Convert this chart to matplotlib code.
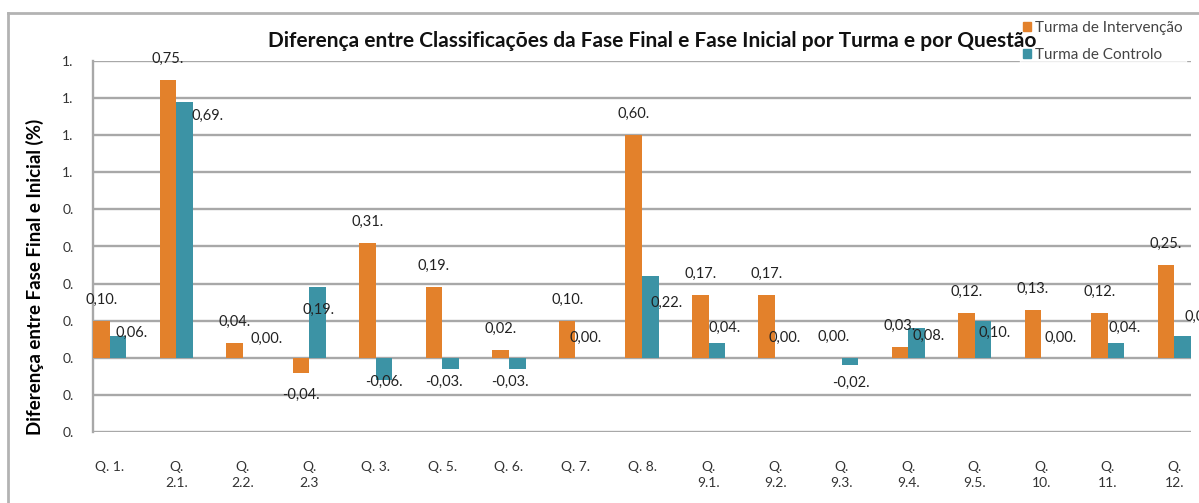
import matplotlib
matplotlib.use("Agg")
import matplotlib.pyplot as plt
import numpy as np
from matplotlib.ticker import FuncFormatter, FixedLocator
from matplotlib.patches import Patch
from matplotlib.lines import Line2D

categories = ["Q. 1.", "Q.\n2.1.", "Q.\n2.2.", "Q.\n2.3", "Q. 3.", "Q. 5.", "Q. 6.",
              "Q. 7.", "Q. 8.", "Q.\n9.1.", "Q.\n9.2.", "Q.\n9.3.", "Q.\n9.4.",
              "Q.\n9.5.", "Q.\n10.", "Q.\n11.", "Q.\n12."]
intervencao = [0.10, 0.75, 0.04, -0.04, 0.31, 0.19, 0.02, 0.10, 0.60, 0.17, 0.17,
               0.00, 0.03, 0.12, 0.13, 0.12, 0.25]
controlo = [0.06, 0.69, 0.00, 0.19, -0.06, -0.03, -0.03, 0.00, 0.22, 0.04, 0.00,
            -0.02, 0.08, 0.10, 0.00, 0.04, 0.06]
series_names = ["Turma de Intervenção", "Turma de Controlo"]
title = "Diferença entre Classificações da Fase Final e Fase Inicial por Turma e por Questão"
ylabel = "Diferença entre Fase Final e Inicial (%)"
yticks = [-0.2, -0.1, 0.0, 0.1, 0.2, 0.3, 0.4, 0.5, 0.6, 0.7, 0.8]

# label offsets for the control series (pixels: dx right, dy down)
ctrl_offsets = [(14, -3), (23, 14), (16, -19), (1, 23), (0, 2), (-7, 13), (-7, 13),
                (2, -20), (16, 27), (8, -15), (1, -20), (1, 18), (12, 8), (12, 12),
                (11, -20), (8, -15), (18, -19)]

ORANGE = "#E3812B"
TEAL = "#3C93A5"
GRID = "#A8A8A8"
FONT = "Lato"

W, H = 1199, 503
fig = plt.figure(figsize=(W / 100, H / 100), dpi=100)
ax = fig.add_axes([93 / W, 1 - 432 / H, (1191 - 93) / W, (432 - 61) / H])

x = np.arange(len(categories))
bw = 0.25
ax.bar(x - bw / 2, intervencao, bw, color=ORANGE, zorder=3)
ax.bar(x + bw / 2, controlo, bw, color=TEAL, zorder=3)

ax.set_xlim(-0.25, len(categories) - 0.75)
ax.set_ylim(-0.2, 0.8)
ax.yaxis.set_major_locator(FixedLocator(yticks))
ax.yaxis.set_major_formatter(FuncFormatter(lambda t, p: f"{int(np.floor(t + 0.5 + 1e-9))}."))
ax.grid(axis="y", color=GRID, linewidth=1.7, zorder=0)
ax.set_xticks(x)
ax.set_xticklabels(categories, fontfamily=FONT, fontsize=10, color="#333333",
                   linespacing=1.35, va="top")
ax.tick_params(axis="both", length=0)
ax.tick_params(axis="x", pad=21)
ax.tick_params(axis="y", pad=14)
for lab in ax.get_yticklabels():
    lab.set_fontfamily(FONT)
    lab.set_fontsize(10)
    lab.set_color("#333333")
for s in ["top", "right", "bottom"]:
    ax.spines[s].set_visible(False)
ax.spines["left"].set_color(GRID)
ax.spines["left"].set_linewidth(1.7)


def fmt(v):
    return f"{v:.2f}".replace(".", ",") + "."


LBL = 10.5
for i, v in enumerate(intervencao):
    dy = 21 if v >= 0 else -22
    ax.annotate(fmt(v), xy=(x[i] - bw / 2, v), xytext=(0, dy), textcoords="offset pixels",
                ha="center", va="center", fontfamily=FONT, fontsize=LBL, color="#222222",
                annotation_clip=False, zorder=5)
for i, v in enumerate(controlo):
    dx, dy = ctrl_offsets[i]
    ax.annotate(fmt(v), xy=(x[i] + bw / 2, v), xytext=(dx, -dy), textcoords="offset pixels",
                ha="center", va="center", fontfamily=FONT, fontsize=LBL, color="#222222",
                annotation_clip=False, zorder=5)

ax.set_ylabel(ylabel, fontfamily=FONT, fontsize=13.5, fontweight="bold")
ax.yaxis.set_label_coords(-(93 - 44) / (1191 - 93), (432 - 277) / (432 - 61))

# outer chart border
fig.add_artist(Line2D([8 / W, 8 / W], [0, 1 - 13 / H], color="#B3B3B3", lw=2))
fig.add_artist(Line2D([8 / W, 1], [1 - 13 / H, 1 - 13 / H], color="#B3B3B3", lw=2))

handles = [Patch(color=ORANGE), Patch(color=TEAL)]
leg = fig.legend(handles, series_names, loc="upper left",
                 bbox_to_anchor=(1020 / W, 1 - 18 / H), frameon=True, fancybox=False,
                 prop={"family": FONT, "size": 11}, handlelength=0.55, handleheight=0.55,
                 handletextpad=0.25, labelspacing=0.85, borderpad=0.2, borderaxespad=0)
leg.get_frame().set_edgecolor("white")
leg.get_frame().set_facecolor("white")
for t in leg.get_texts():
    t.set_color("#444444")

fig.text(652 / W, 1 - 41 / H, title, ha="center", va="center", fontfamily=FONT,
         fontsize=15, fontweight="bold", color="#111111", zorder=10)

fig.savefig("out.png", dpi=100)
